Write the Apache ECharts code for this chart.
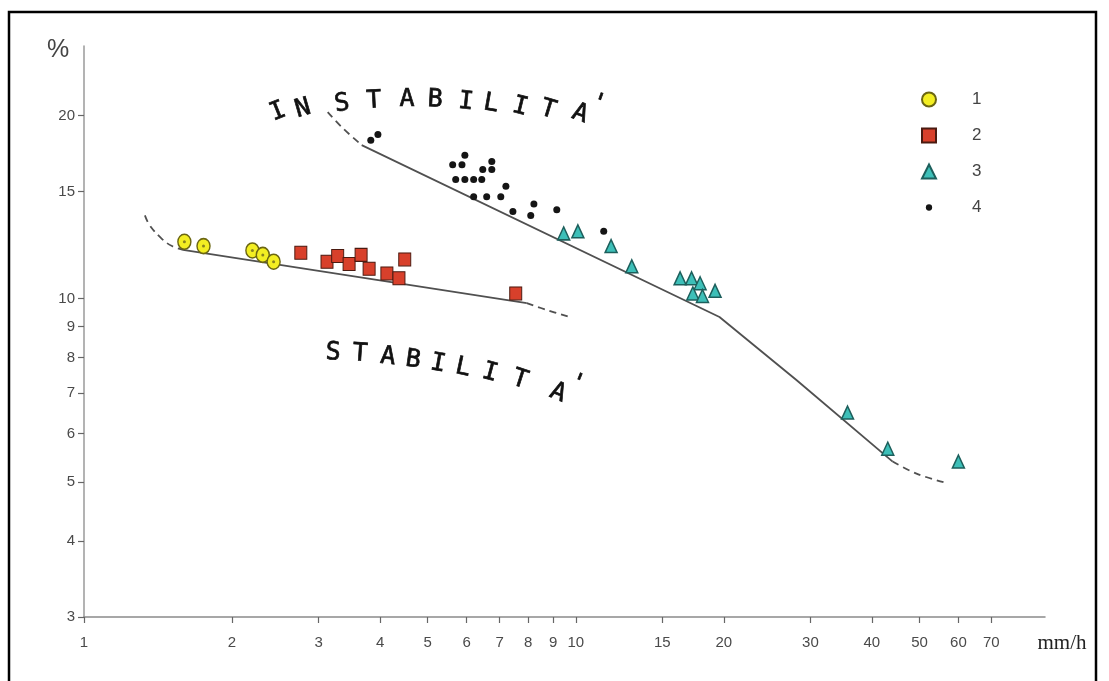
<!DOCTYPE html>
<html><head><meta charset="utf-8">
<script src="https://cdn.jsdelivr.net/npm/echarts@6/dist/echarts.min.js"></script>
<style>html,body{margin:0;padding:0;background:#fff}#c{width:1109px;height:681px}</style>
</head><body><div id="c"></div>
<script>
// ---- data ----
const xTicks = [1,2,3,4,5,6,7,8,9,10,15,20,30,40,50,60,70];
const yTicks = [3,4,5,6,7,8,9,10,15,20];
const legendNames = ['1','2','3','4'];
const series1 = [[1.60,12.4],[1.75,12.2],[2.20,12.0],[2.31,11.8],[2.43,11.5]];
const series2 = [[2.76,11.9],[3.12,11.5],[3.28,11.75],[3.46,11.4],[3.66,11.8],[3.80,11.2],[4.13,11.0],[4.37,10.8],[4.49,11.6],[7.55,10.2]];
const series3 = [[9.45,12.8],[10.1,12.9],[11.8,12.2],[13.0,11.3],[16.3,10.8],[17.2,10.8],[17.9,10.6],[17.3,10.2],[18.1,10.1],[19.2,10.3],[35.7,6.5],[43.1,5.67],[60.0,5.4]];
const series4 = [[3.83,18.2],[3.96,18.6],[5.95,17.2],[5.62,16.6],[5.87,16.6],[6.75,16.8],[6.47,16.3],[6.75,16.3],[5.70,15.7],[5.95,15.7],[6.20,15.7],[6.44,15.7],[7.21,15.3],[6.20,14.7],[6.59,14.7],[7.04,14.7],[8.22,14.3],[7.45,13.9],[8.10,13.7],[9.15,14.0],[11.4,12.9]];
const stableDashStart = [[1.33,13.7],[1.36,13.2],[1.44,12.54],[1.51,12.2],[1.59,12.03]];
const stableSolid = [[1.59,12.03],[7.95,9.83]];
const stableDashEnd = [[7.95,9.83],[8.77,9.57],[9.63,9.35]];
const unstableDashStart = [[3.13,20.25],[3.35,19.1],[3.67,17.87]];
const unstableSolid = [[3.67,17.87],[19.6,9.33],[28.1,7.35],[44.1,5.40]];
const unstableDashEnd = [[44.1,5.40],[49.3,5.16],[56.2,4.99]];
const upperText = "INSTABILITA'";
const lowerText = "STABILITA'";
const yName = '%';
const xName = 'mm/h';

// ---- layout for hand-lettered annotations ----
const upperLayout = [[278,112,22],[303,109,16],[342,104,8],[374,101,3],[407,99,0],[435,100,-3],[466,102,-6],[491,104,-10],[520,107,-14],[548,110,-17],[580,114,-20],[598,104,-20]];
const lowerLayout = [[333,353,-3],[360,354,-4],[388,357,-6],[413,360,-8],[438,364,-10],[463,368,-12],[490,373,-15],[520,380,-18],[558,393,-22],[577,384,-22]];

function letters(str, layout){
  return str.split('').map((ch,i)=>({
    type:'text', x:layout[i][0], y:layout[i][1], rotation:layout[i][2]*Math.PI/180, z:50,
    style:{text:ch, fontSize:25, fontFamily:'DejaVu Sans Mono', fill:'#111', stroke:'#111', lineWidth:0.7, align:'center', verticalAlign:'middle'}
  }));
}

const chart = echarts.init(document.getElementById('c'));
const numFont = 'Liberation Sans Narrow, Liberation Sans, sans-serif';
const lineColor = '#505050';
function lineSeries(data, dashed){
  return {type:'line', data, symbol:'none', silent:true, smooth: dashed ? 0.4 : false, z:2,
    lineStyle:{color:lineColor, width:1.8, type: dashed ? [7,5] : 'solid'}};
}
chart.setOption({
  animation:false,
  backgroundColor:'#ffffff',
  grid:{left:84, right:64, top:46, bottom:64, containLabel:false, outerBoundsMode:'none'},
  xAxis:{type:'log', logBase:10, min:1, max:90,
    axisLine:{lineStyle:{color:'#8a8a8a', width:1.5}},
    axisTick:{show:true, customValues:xTicks, length:6, lineStyle:{color:'#666', width:1.2}},
    axisLabel:{customValues:xTicks, margin:18, color:'#4a4a4a', fontSize:15, fontFamily:numFont},
    splitLine:{show:false}, minorTick:{show:false}, minorSplitLine:{show:false}},
  yAxis:{type:'log', logBase:10, min:3, max:26,
    axisLine:{show:true, lineStyle:{color:'#9a9a9a', width:1.5}},
    axisTick:{show:true, customValues:yTicks, length:6, lineStyle:{color:'#666', width:1.2}},
    axisLabel:{customValues:yTicks, margin:9, color:'#4a4a4a', fontSize:15, fontFamily:numFont},
    splitLine:{show:false}, minorTick:{show:false}, minorSplitLine:{show:false}},
  legend:{orient:'vertical', left:916, top:86, itemWidth:14, itemHeight:14, itemGap:19,
    data:[{name:legendNames[0]},{name:legendNames[1]},{name:legendNames[2]},
      {name:legendNames[3], icon:'path://M0,0M20,20M10,5.5A4.5,4.5 0 1 1 10,14.5A4.5,4.5 0 1 1 10,5.5Z'}],
    textStyle:{fontSize:17, color:'#444', padding:[0,0,0,31], lineHeight:14, fontFamily:'Liberation Sans, sans-serif'},
    selectedMode:false},
  series:[
    lineSeries(stableDashStart,true), lineSeries(stableSolid,false), lineSeries(stableDashEnd,true),
    lineSeries(unstableDashStart,true), lineSeries(unstableSolid,false), lineSeries(unstableDashEnd,true),
    {name:legendNames[0], type:'scatter', data:series1, symbol:'circle', symbolSize:[13,15], z:5,
      itemStyle:{color:'#f3ee22', borderColor:'#6b6612', borderWidth:1.5, opacity:1}},
    {name:'1c', type:'scatter', data:series1, symbol:'circle', symbolSize:3, z:6, silent:true,
      itemStyle:{color:'#8a8420', opacity:1}},
    {name:legendNames[1], type:'scatter', data:series2, symbol:'rect', symbolSize:[12,13], z:5,
      itemStyle:{color:'#d8402b', borderColor:'#4a1a10', borderWidth:1, opacity:1}},
    {name:legendNames[2], type:'scatter', data:series3, symbol:'triangle', symbolSize:[12,13], z:5,
      itemStyle:{color:'#3dbfb8', borderColor:'#1d5f5c', borderWidth:1.5, opacity:1}},
    {name:legendNames[3], type:'scatter', data:series4, symbol:'circle', symbolSize:7, z:5,
      itemStyle:{color:'#151515', opacity:1}}
  ],
  graphic:[
    {type:'rect', shape:{x:9,y:12,width:1087,height:700}, style:{fill:'none', stroke:'#000', lineWidth:2.5}, z:100, silent:true},
    {type:'text', x:58, y:50, z:50, style:{text:yName, fontSize:25, fontFamily:'Liberation Sans Narrow, Liberation Sans', fill:'#444', align:'center', verticalAlign:'middle'}},
    {type:'text', x:1062, y:643, z:50, style:{text:xName, fontSize:21, fontFamily:'Liberation Serif', fill:'#222', align:'center', verticalAlign:'middle'}}
  ].concat(letters(upperText, upperLayout), letters(lowerText, lowerLayout))
});
</script>
</body></html>
